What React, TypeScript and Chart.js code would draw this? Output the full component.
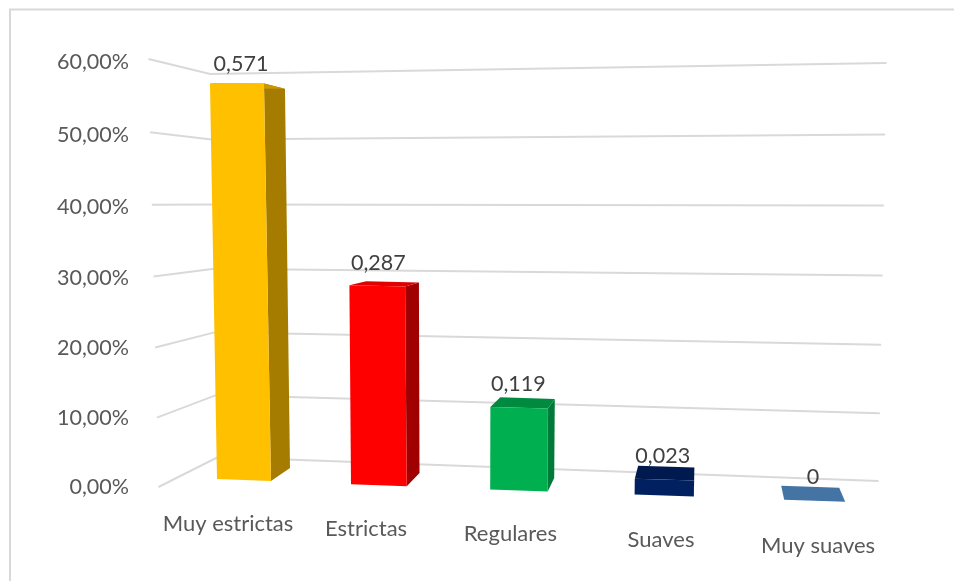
import React, { useEffect, useRef } from "react";
import { Chart, registerables } from "chart.js";

Chart.register(...registerables);

const categories = ["Muy estrictas", "Estrictas", "Regulares", "Suaves", "Muy suaves"];
const values = [0.571, 0.287, 0.119, 0.023, 0];
const valueLabels = ["0,571", "0,287", "0,119", "0,023", "0"];
const frontColors = ["#FFC000", "#FF0000", "#00B050", "#002060", "#4474A4"];
const sideColors = ["#A67C00", "#A00000", "#007A38", "#001A50", "#4474A4"];
const topColors = ["#C99700", "#E00000", "#008A40", "#001A50", "#4474A4"];

const FONT = "Lato, Carlito, sans-serif";
const warp = (t: number) => t - 0.033 * t * (1 - t);
const lerp = (a: number, b: number, t: number) => a + (b - a) * t;

// Oblique view of a point: u = category position, s = across bar, d = depth, v = value
function project(u: number, s: number, d: number, v: number): [number, number] {
  const x0 = 217 + 131.4 * u + 2.6 * u * u;
  const w = 54 + 1.75 * u;
  const xs = x0 + s * w;
  const lean = (x0 + w / 2 - 490) * 0.05 * v;
  const dx = d * (19 - 6.25 * u + 3 * (1 - s) + 3.5 * v);
  const dy = d * (-13 - 0.25 * u + 32 * v);
  const y = 479 + 5.2 * u + s * (2 - 3 * v) - 693 * v;
  return [xs + lean + dx, y + dy];
}

function quad(ctx: CanvasRenderingContext2D, pts: [number, number][], color: string) {
  ctx.beginPath();
  pts.forEach((p, i) => (i ? ctx.lineTo(p[0], p[1]) : ctx.moveTo(p[0], p[1])));
  ctx.closePath();
  ctx.fillStyle = color;
  ctx.fill();
}

const scene3d = {
  id: "scene3d",
  beforeDatasetsDraw(chart: any) {
    const { ctx, scales } = chart;
    const yS = scales.y;
    ctx.save();
    // frame: the reference crops it on the right and at the bottom
    ctx.strokeStyle = "#D9D9D9";
    ctx.lineWidth = 2;
    ctx.beginPath();
    ctx.moveTo(10, 581);
    ctx.lineTo(10, 9.5);
    ctx.lineTo(954, 9.5);
    ctx.stroke();
    // walls' gridlines and tick labels
    ctx.font = `21.5px ${FONT}`;
    ctx.textAlign = "right";
    ctx.textBaseline = "middle";
    yS.ticks.forEach((tick: any) => {
      const v = tick.value;
      const t = warp((yS.bottom - yS.getPixelForValue(v)) / (yS.bottom - yS.top));
      ctx.beginPath();
      ctx.moveTo(158.5 - 16.7 * v, lerp(487, 59, t));
      ctx.lineTo(218 - 13 * v, lerp(457, 74, t));
      ctx.lineTo(878.5 + 13.3 * v, lerp(481, 63, t));
      ctx.strokeStyle = "#D9D9D9";
      ctx.lineWidth = 2;
      ctx.stroke();
      ctx.fillStyle = "#595959";
      ctx.fillText(tick.label, 129, lerp(487, 62, t));
    });
    ctx.restore();
  },
  beforeDatasetDraw(chart: any) {
    const { ctx, scales } = chart;
    const meta = chart.getDatasetMeta(0);
    const xS = scales.x;
    const yS = scales.y;
    const step = xS.getPixelForTick(1) - xS.getPixelForTick(0);
    const u0 = xS.getPixelForTick(0);
    ctx.save();
    meta.data.forEach((el: any, i: number) => {
      const u = (el.x - u0) / step;
      const v = yS.getValueForPixel(el.y);
      const p = (s: number, d: number, val: number) => project(u, s, d, val);
      if (v > 0) {
        quad(ctx, [p(1, 0, 0), p(1, 1, 0), p(1, 1, v), p(1, 0, v)], sideColors[i]);
      }
      quad(ctx, [p(0, 0, v), p(1, 0, v), p(1, 1, v), p(0, 1, v)], topColors[i]);
      if (v > 0) {
        quad(ctx, [p(0, 0, 0), p(1, 0, 0), p(1, 0, v), p(0, 0, v)], frontColors[i]);
      }
      const tl = p(0, 0, v);
      const tr = p(1, 0, v);
      ctx.font = `21.5px ${FONT}`;
      ctx.textAlign = "center";
      ctx.textBaseline = "middle";
      ctx.fillStyle = "#404040";
      ctx.fillText(
        valueLabels[i],
        (tl[0] + tr[0]) / 2 + 4 - 3.4 * u + 0.5 * u * u,
        tl[1] - 22.5 + 9 * v * v
      );
    });
    // category labels
    ctx.font = `22px ${FONT}`;
    ctx.textAlign = "center";
    ctx.textBaseline = "middle";
    ctx.fillStyle = "#595959";
    xS.ticks.forEach((tick: any, i: number) => {
      const u = (xS.getPixelForTick(i) - u0) / step;
      ctx.fillText(
        xS.getLabelForValue(tick.value),
        228 + 134.9 * u + 3.15 * u * u,
        524 + 4.4 * u + 0.25 * u * u
      );
    });
    ctx.restore();
    return false; // faces above replace the flat default bar
  },
};

export default function App() {
  const ref = useRef<HTMLCanvasElement>(null);
  useEffect(() => {
    document.body.style.margin = "0";
    const chart = new Chart(ref.current!, {
      type: "bar",
      data: {
        labels: categories,
        datasets: [{ data: values, backgroundColor: frontColors, borderWidth: 0 }],
      },
      options: {
        responsive: false,
        animation: false,
        devicePixelRatio: 1,
        layout: { padding: { left: 140, right: 70, top: 61, bottom: 95 } },
        plugins: { legend: { display: false }, tooltip: { enabled: false } },
        scales: {
          x: { grid: { display: false }, border: { display: false }, ticks: { display: false } },
          y: {
            min: 0,
            max: 0.6,
            grid: { display: false },
            border: { display: false },
            ticks: {
              display: false,
              stepSize: 0.1,
              callback: (v: any) => (Number(v) * 100).toFixed(2).replace(".", ",") + "%",
            },
          },
        },
      },
      plugins: [scene3d],
    } as any);
    return () => chart.destroy();
  }, []);
  return <canvas ref={ref} width={954} height={581} style={{ display: "block" }} />;
}
